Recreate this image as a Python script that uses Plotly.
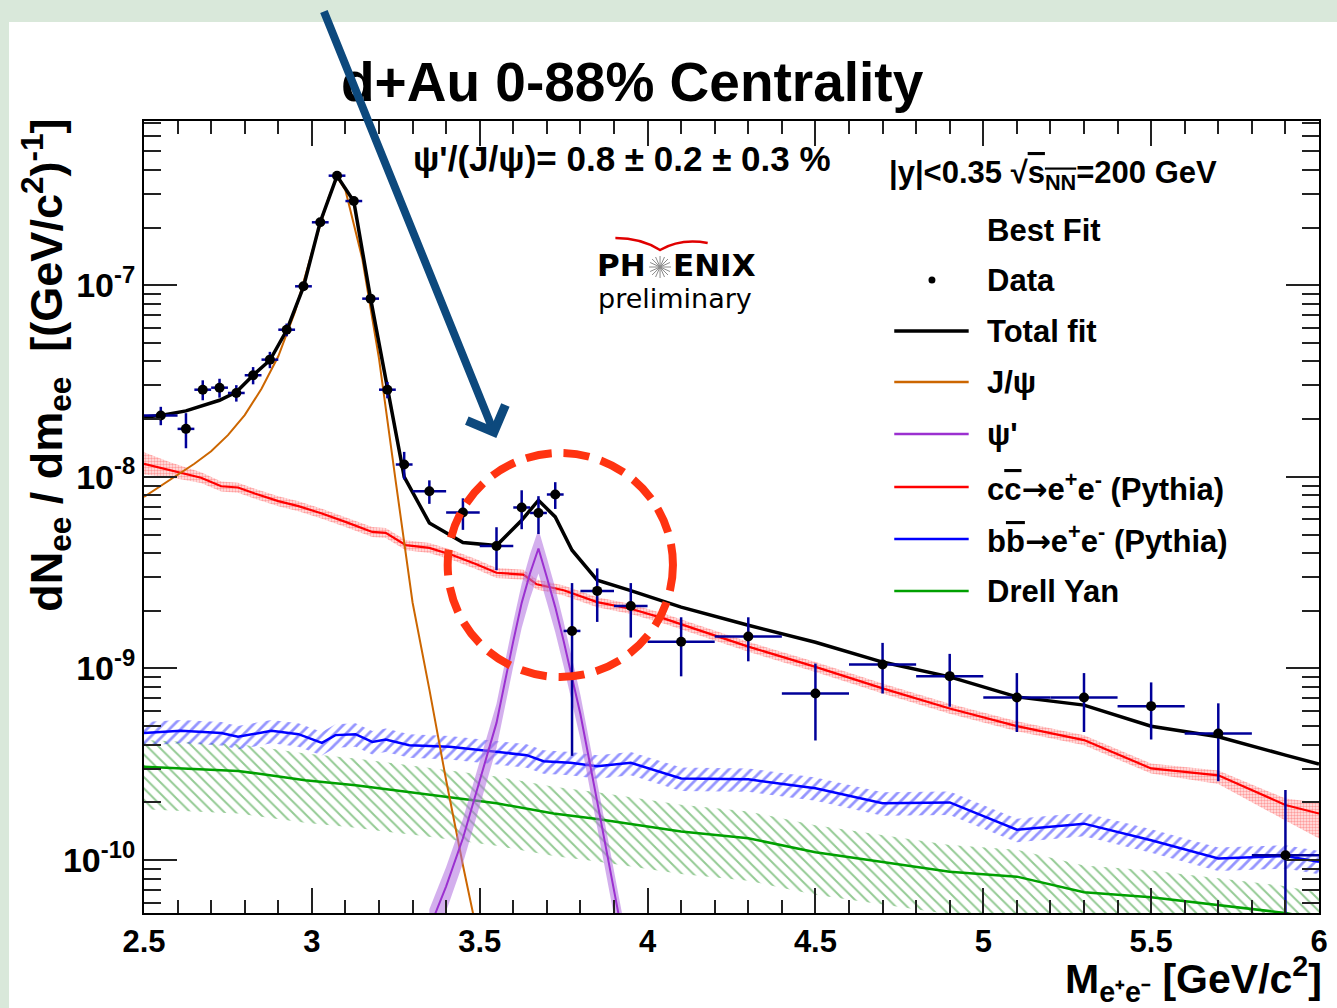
import plotly.graph_objects as go

# ---------------- measured e+e- yield ----------------
mass = [2.55, 2.625, 2.675, 2.725, 2.775, 2.825, 2.875, 2.925, 2.975, 3.025,
        3.075, 3.125, 3.175, 3.225, 3.275, 3.35, 3.45, 3.55, 3.625, 3.675,
        3.725, 3.775, 3.85, 3.95, 4.1, 4.3, 4.5, 4.7, 4.9, 5.1,
        5.3, 5.5, 5.7, 5.9]
mass_halfbin = [0.05, 0.025, 0.025, 0.025, 0.025, 0.025, 0.025, 0.025, 0.025, 0.025,
                0.025, 0.025, 0.025, 0.025, 0.025, 0.05, 0.05, 0.05, 0.025, 0.025,
                0.025, 0.025, 0.05, 0.05, 0.1, 0.1, 0.1, 0.1, 0.1, 0.1,
                0.1, 0.1, 0.1, 0.1]
yield_ee = [2.09e-8, 1.78e-8, 2.85e-8, 2.92e-8, 2.74e-8, 3.39e-8, 4.09e-8, 5.86e-8, 9.87e-8, 2.13e-7,
            3.73e-7, 2.75e-7, 8.51e-8, 2.85e-8, 1.16e-8, 8.41e-9, 6.51e-9, 4.36e-9, 6.92e-9, 6.48e-9,
            8.09e-9, 1.57e-9, 2.54e-9, 2.12e-9, 1.38e-9, 1.47e-9, 7.41e-10, 1.05e-9, 9.12e-10, 7.06e-10,
            7.06e-10, 6.36e-10, 4.58e-10, 1.06e-10]
yield_err = [0.23e-8, 0.37e-8, 0.34e-8, 0.33e-8, 0.27e-8, 0.35e-8, 0.40e-8, 0.45e-8, 0.54e-8, 0.6e-8,
             0.9e-8, 0.7e-8, 0.35e-8, 0.28e-8, 0.19e-8, 1.18e-9, 1.22e-9, 1.10e-9, 1.59e-9, 1.45e-9,
             1.29e-9, 1.22e-9, 0.79e-9, 0.67e-9, 0.47e-9, 0.38e-9, 0.32e-9, 0.31e-9, 0.28e-9, 0.24e-9,
             0.24e-9, 0.21e-9, 0.20e-9, 1.26e-10]

# ---------------- best fit: total ----------------
fit_mass = [2.5, 2.55, 2.625, 2.675, 2.725, 2.775, 2.825, 2.875, 2.925, 2.975,
            3.025, 3.075, 3.125, 3.175, 3.225, 3.275, 3.35, 3.45, 3.55, 3.625,
            3.675, 3.725, 3.775, 3.85, 3.95, 4.1, 4.3, 4.5, 4.7, 4.9,
            5.1, 5.3, 5.5, 5.7, 5.9, 6.0]
fit_total = [2.05e-8, 2.09e-8, 2.21e-8, 2.35e-8, 2.51e-8, 2.77e-8, 3.39e-8, 4.06e-8, 5.82e-8, 9.79e-8,
             2.14e-7, 3.72e-7, 2.74e-7, 8.51e-8, 2.85e-8, 1.0e-8, 5.75e-9, 4.54e-9, 4.38e-9, 5.94e-9,
             7.55e-9, 6.18e-9, 4.14e-9, 2.89e-9, 2.55e-9, 2.09e-9, 1.68e-9, 1.37e-9, 1.08e-9, 9.04e-10,
             7.11e-10, 6.44e-10, 5.00e-10, 4.40e-10, 3.53e-10, 3.17e-10]

# ---------------- J/psi line shape ----------------
jpsi_mass = [2.5, 2.55, 2.6, 2.65, 2.7, 2.75, 2.8, 2.85, 2.9, 2.95, 3.0, 3.05, 3.075,
             3.1, 3.15, 3.2, 3.25, 3.3, 3.35, 3.4, 3.45, 3.5]
jpsi_yield = [7.85e-9, 8.95e-9, 1.02e-8, 1.17e-8, 1.36e-8, 1.65e-8, 2.10e-8, 2.88e-8, 4.26e-8, 7.28e-8,
              1.48e-7, 2.87e-7, 3.67e-7, 3.13e-7, 1.38e-7, 4.14e-8, 9.42e-9, 2.21e-9, 7.78e-10, 2.61e-10,
              9.4e-11, 3.6e-11]

# ---------------- psi' line shape ----------------
psi2_mass = [3.35, 3.40, 3.45, 3.50, 3.55, 3.60, 3.625, 3.65, 3.675, 3.70,
             3.725, 3.75, 3.80, 3.85, 3.90, 3.95]
psi2_yield = [4.4e-11, 7.3e-11, 1.30e-10, 2.59e-10, 5.2e-10, 1.39e-9, 2.20e-9, 3.14e-9, 4.23e-9, 2.99e-9,
              2.09e-9, 1.39e-9, 5.77e-10, 2.02e-10, 6.98e-11, 2.4e-11]
psi2_rel_unc = 0.26

# ---------------- open charm (PYTHIA) ----------------
cc_mass = [2.5, 2.58, 2.67, 2.73, 2.78, 2.83, 2.9, 2.96, 3.03, 3.1,
           3.18, 3.22, 3.28, 3.35, 3.42, 3.49, 3.55, 3.63, 3.67, 3.75,
           3.85, 3.95, 4.05, 4.15, 4.3, 4.5, 4.7, 4.9, 5.1, 5.3,
           5.5, 5.7, 5.9, 6.0]
cc_yield = [1.17e-8, 1.08e-8, 9.89e-9, 8.93e-9, 8.80e-9, 8.18e-9, 7.47e-9, 7.03e-9, 6.44e-9, 5.82e-9,
            5.16e-9, 5.10e-9, 4.40e-9, 4.26e-9, 3.90e-9, 3.50e-9, 3.16e-9, 3.09e-9, 2.75e-9, 2.56e-9,
            2.22e-9, 2.05e-9, 1.82e-9, 1.59e-9, 1.30e-9, 1.02e-9, 7.87e-10, 6.18e-10, 5.00e-10, 4.23e-10,
            3.01e-10, 2.77e-10, 1.94e-10, 1.75e-10]
cc_rel_up = [0.15, 0.10, 0.07, 0.06, 0.06, 0.06, 0.06, 0.06, 0.06, 0.06,
             0.06, 0.06, 0.06, 0.06, 0.06, 0.06, 0.06, 0.06, 0.06, 0.06,
             0.06, 0.06, 0.06, 0.06, 0.06, 0.06, 0.06, 0.06, 0.06, 0.06,
             0.06, 0.06, 0.08, 0.14]
cc_rel_dn = [0.12, 0.08, 0.06, 0.06, 0.06, 0.06, 0.06, 0.06, 0.06, 0.06,
             0.06, 0.06, 0.06, 0.06, 0.06, 0.06, 0.06, 0.06, 0.06, 0.06,
             0.06, 0.06, 0.06, 0.06, 0.06, 0.06, 0.06, 0.06, 0.06, 0.06,
             0.06, 0.10, 0.17, 0.26]

# ---------------- open beauty (PYTHIA) ----------------
bb_mass = [2.5, 2.61, 2.73, 2.78, 2.88, 2.96, 3.03, 3.07, 3.13, 3.18,
           3.22, 3.29, 3.41, 3.55, 3.64, 3.69, 3.77, 3.85, 3.95, 4.1,
           4.3, 4.5, 4.7, 4.9, 5.1, 5.3, 5.5, 5.7, 5.9, 6.0]
bb_yield = [4.61e-10, 4.73e-10, 4.61e-10, 4.40e-10, 4.73e-10, 4.54e-10, 4.09e-10, 4.49e-10, 4.54e-10, 4.14e-10,
            4.26e-10, 3.98e-10, 3.90e-10, 3.67e-10, 3.53e-10, 3.28e-10, 3.22e-10, 3.09e-10, 3.22e-10, 2.67e-10,
            2.64e-10, 2.37e-10, 1.98e-10, 2.00e-10, 1.44e-10, 1.55e-10, 1.27e-10, 1.02e-10, 1.05e-10, 9.8e-11]
bb_rel_unc = 0.14

# ---------------- Drell-Yan ----------------
dy_mass = [2.5, 2.78, 2.87, 2.98, 3.13, 3.21, 3.32, 3.41, 3.55, 3.72,
           3.85, 4.1, 4.3, 4.5, 4.7, 4.9, 5.1, 5.3, 5.5, 5.7,
           5.9, 6.0]
dy_yield = [3.07e-10, 2.92e-10, 2.78e-10, 2.61e-10, 2.46e-10, 2.36e-10, 2.24e-10, 2.14e-10, 1.98e-10, 1.75e-10,
            1.64e-10, 1.41e-10, 1.30e-10, 1.10e-10, 9.8e-11, 8.7e-11, 8.2e-11, 6.8e-11, 6.4e-11, 5.8e-11,
            5.3e-11, 4.9e-11]
dy_rel_up = 0.38
dy_rel_dn = 0.40

# ---------------- axis ticks ----------------
x_ticks = [2.5, 3.0, 3.5, 4.0, 4.5, 5.0, 5.5, 6.0]
x_ticklabels = ["2.5", "3", "3.5", "4", "4.5", "5", "5.5", "6"]
y_ticks = [1e-10, 1e-9, 1e-8, 1e-7]
y_ticklabels = ["10<sup>-10</sup>", "10<sup>-9</sup>", "10<sup>-8</sup>", "10<sup>-7</sup>"]

ARROW = "<span style='font-family:DejaVu Sans'>\u2192</span>"
OVER = "<span style='text-decoration:overline'>{}</span>"
legend_labels = ["Total fit", "J/\u03c8", "\u03c8'",
                 "c" + OVER.format("c") + ARROW + "e<sup>+</sup>e<sup>-</sup> (Pythia)",
                 "b" + OVER.format("b") + ARROW + "e<sup>+</sup>e<sup>-</sup> (Pythia)",
                 "Drell Yan"]
legend_colors = ["black", "#cc6600", "#9b30d0", "#ff0000", "#0000ff", "#00a000"]
legend_widths = [3.5, 2.5, 2.5, 2.5, 2.5, 2.5]

# ---------------- page geometry (pixels) ----------------
W, H = 1337, 1008
PX0, PX1, PY0, PY1 = 144, 1328, 121, 913


def fx(px):
    return (px - PX0) / (PX1 - PX0)


def fy(py):
    return (PY1 - py) / (PY1 - PY0)


FONT = "Liberation Sans"
FRAME_TINT = "#d9e8da"
fig = go.Figure()


def add_band(x, lo, hi, **style):
    fig.add_trace(go.Scatter(
        x=list(x) + list(x)[::-1], y=list(hi) + list(lo)[::-1],
        mode="lines", line=dict(width=0), fill="toself",
        hoverinfo="skip", showlegend=False, **style))


def add_curve(x, y, color, width):
    fig.add_trace(go.Scatter(x=x, y=y, mode="lines", line=dict(color=color, width=width),
                             showlegend=False, hoverinfo="skip"))


# Drell-Yan band (\\ hatch) and beauty band (/ hatch)
add_band(dy_mass, [v * (1 - dy_rel_dn) for v in dy_yield], [v * (1 + dy_rel_up) for v in dy_yield],
         fillcolor="rgba(0,0,0,0)",
         fillpattern=dict(shape="\\", fgcolor="#2a962a", bgcolor="rgba(0,0,0,0)", size=8, solidity=0.25))
add_band(bb_mass, [v * (1 - bb_rel_unc) for v in bb_yield], [v * (1 + bb_rel_unc) for v in bb_yield],
         fillcolor="rgba(0,0,0,0)",
         fillpattern=dict(shape="/", fgcolor="#2a2aff", bgcolor="rgba(0,0,0,0)", size=8, solidity=0.35))
add_curve(dy_mass, dy_yield, "#00a000", 2.5)
add_curve(bb_mass, bb_yield, "#0000ff", 2.5)

# charm band (dotted) and line
add_band(cc_mass, [v * (1 - r) for v, r in zip(cc_yield, cc_rel_dn)],
         [v * (1 + r) for v, r in zip(cc_yield, cc_rel_up)],
         fillcolor="rgba(0,0,0,0)",
         fillpattern=dict(shape=".", fgcolor="#ff5050", bgcolor="rgba(255,190,190,0.35)", size=3, solidity=0.5))
add_curve(cc_mass, cc_yield, "#ff0000", 2.2)

# J/psi
add_curve(jpsi_mass, jpsi_yield, "#cc6600", 2)

# psi' band and line
add_band(psi2_mass, [v * (1 - psi2_rel_unc) for v in psi2_yield],
         [v * (1 + psi2_rel_unc) for v in psi2_yield],
         fillcolor="rgba(175,110,222,0.55)")
add_curve(psi2_mass, psi2_yield, "#9b30d0", 2)

# total fit
add_curve(fit_mass, fit_total, "black", 3.5)

# data points
fig.add_trace(go.Scatter(
    x=mass, y=yield_ee, mode="markers", showlegend=False,
    marker=dict(color="black", size=10),
    error_x=dict(type="data", array=mass_halfbin, color="#000099", thickness=2.5, width=0),
    error_y=dict(type="data", array=yield_err, color="#000099", thickness=2.5, width=0)))

# ---------------- axes ----------------
x_minor = [round(2.5 + 0.1 * i, 2) for i in range(36)]
x_minor = [v for v in x_minor if all(abs(v - t) > 1e-6 for t in x_ticks)]
y_minor = [k * 10.0 ** e for e in range(-11, -6) for k in range(2, 10)]

axis_common = dict(showgrid=False, zeroline=False, showline=True, linecolor="black", linewidth=2,
                   mirror="allticks", ticks="inside", tickwidth=2, tickcolor="#222222")
fig.update_xaxes(range=[2.5, 6.0], tickmode="array", tickvals=x_ticks, ticktext=x_ticklabels,
                 ticklen=25,
                 tickfont=dict(family=FONT, size=31, color="black", weight="bold"),
                 minor=dict(tickmode="array", tickvals=x_minor, ticks="inside", ticklen=13,
                            tickwidth=2, tickcolor="#222222"),
                 **axis_common)
fig.update_yaxes(type="log", range=[-10.276, -6.143], tickmode="array", tickvals=y_ticks,
                 ticktext=y_ticklabels, ticklen=33,
                 tickfont=dict(family=FONT, size=34, color="black", weight="bold"),
                 minor=dict(tickmode="array", tickvals=y_minor, ticks="inside", ticklen=17,
                            tickwidth=2, tickcolor="#222222"),
                 **axis_common)


def label(px, py, text, size, anchor="left", weight="bold", family=FONT, angle=0, color="black"):
    fig.add_annotation(x=fx(px), y=fy(py), xref="paper", yref="paper", text=text, showarrow=False,
                       xanchor=anchor, yanchor="middle", textangle=angle,
                       font=dict(family=family, size=size, color=color, weight=weight))


# titles
label(636, 82, "d+Au 0-88% Centrality", 55, anchor="center")
label(45, 365, "dN<sub>ee</sub> / dm<sub>ee</sub>  [(GeV/c<sup>2</sup>)<sup>-1</sup>]", 45,
      anchor="center", angle=-90)
label(1333, 979, "M<sub>e\u207ae\u207b</sub> [GeV/c<sup>2</sup>]", 41, anchor="right")

# fit result and kinematics
label(413, 158, "\u03c8'/(J/\u03c8)= 0.8 \u00b1 0.2 \u00b1 0.3 %", 35)
label(893, 175, "|y|<0.35 \u221a" + OVER.format("s<sub>NN</sub>") + "=200 GeV", 31)

# legend
label(991, 230, "Best Fit", 31)
label(991, 280, "Data", 31)
fig.add_shape(type="circle", xref="paper", yref="paper", x0=fx(934.5), x1=fx(941.5),
              y0=fy(283.5), y1=fy(276.5), fillcolor="black", line=dict(color="black", width=0))
legend_rows = [331, 382, 434, 487, 539, 591]
for row, text, col, lw in zip(legend_rows, legend_labels, legend_colors, legend_widths):
    fig.add_shape(type="line", xref="paper", yref="paper", x0=fx(900), x1=fx(975),
                  y0=fy(row), y1=fy(row), line=dict(color=col, width=lw))
    label(991, row, text, 31)

# PHENIX preliminary mark
label(652, 265, "PH", 31, anchor="right", family="DejaVu Sans")
label(675, 265, "ENIX", 31, anchor="left", family="DejaVu Sans")
label(679, 298, "preliminary", 27, anchor="center", weight="normal", family="DejaVu Sans")
star_c = (664, 267)
for dx, dy in [(11, 0), (10, 4.5), (8, 8), (4.5, 10), (0, 11), (-4.5, 10), (-8, 8), (-10, 4.5)]:
    fig.add_shape(type="line", xref="paper", yref="paper",
                  x0=fx(star_c[0] - dx), x1=fx(star_c[0] + dx),
                  y0=fy(star_c[1] - dy), y1=fy(star_c[1] + dy),
                  line=dict(color="#8a8a8a", width=1))
swoosh = "M {:.5f},{:.5f} Q {:.5f},{:.5f} {:.5f},{:.5f} Q {:.5f},{:.5f} {:.5f},{:.5f}".format(
    fx(619), fy(238), fx(645), fy(238), fx(664), fy(250), fx(685), fy(238), fx(712), fy(243))
fig.add_shape(type="path", xref="paper", yref="paper", path=swoosh,
              line=dict(color="#e00000", width=2.5))

# highlight of the psi' region
fig.add_shape(type="circle", xref="paper", yref="paper", x0=fx(450), x1=fx(677),
              y0=fy(677), y1=fy(453), line=dict(color="#ff3311", width=8, dash="26px,12px"))
fig.add_annotation(x=fx(499), y=fy(438), xref="paper", yref="paper", ax=-173, ay=-428,
                   text="", showarrow=True, arrowhead=4, arrowsize=1.0, arrowwidth=8,
                   arrowcolor="#0d497d", standoff=0, startstandoff=0)

# tinted strips along the top and left page edges
fig.add_shape(type="rect", xref="paper", yref="paper", layer="below",
              x0=fx(-20), x1=fx(1380), y0=fy(22), y1=fy(-20),
              fillcolor=FRAME_TINT, line=dict(width=0))
fig.add_shape(type="rect", xref="paper", yref="paper", layer="below",
              x0=fx(-20), x1=fx(8), y0=fy(1040), y1=fy(-20),
              fillcolor=FRAME_TINT, line=dict(width=0))

fig.update_layout(width=W, height=H, autosize=False,
                  margin=dict(l=PX0, r=W - PX1, t=PY0, b=H - PY1, pad=0),
                  paper_bgcolor="white", plot_bgcolor="white", showlegend=False)

fig.write_html("out.html")
